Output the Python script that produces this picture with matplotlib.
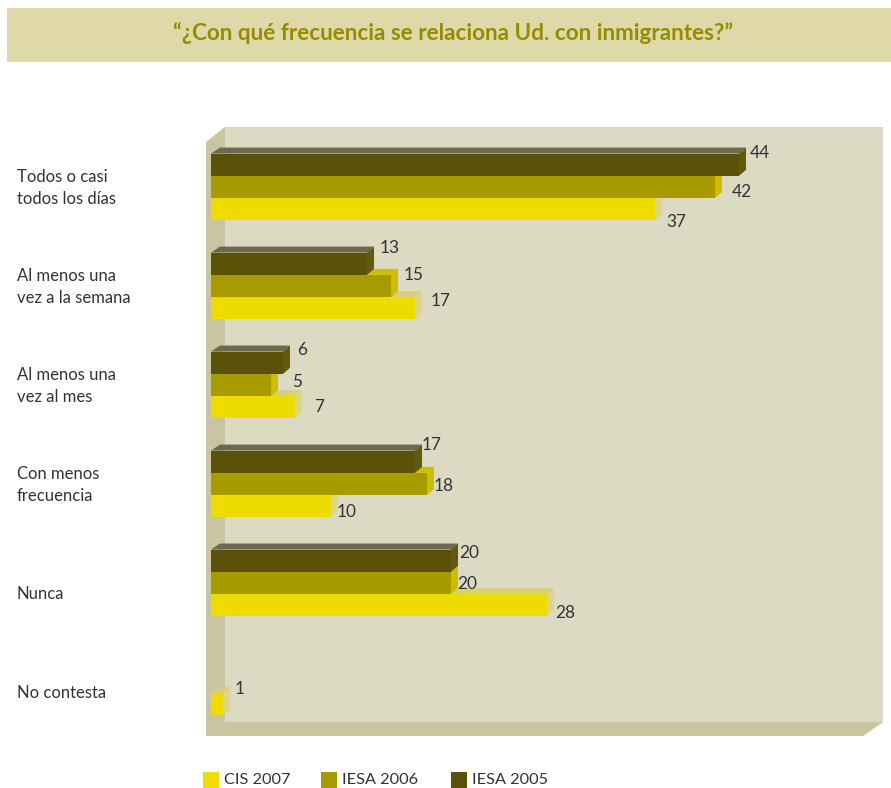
import matplotlib
matplotlib.use("Agg")
import matplotlib.pyplot as plt
from matplotlib.patches import Polygon
from matplotlib.transforms import Affine2D

categories = ["Todos o casi\ntodos los días", "Al menos una\nvez a la semana", "Al menos una\nvez al mes",
              "Con menos\nfrecuencia", "Nunca", "No contesta"]
cis_2007 = [37, 17, 7, 10, 28, 1]
iesa_2006 = [42, 15, 5, 18, 20, None]
iesa_2005 = [44, 13, 6, 17, 20, None]
series_names = ["CIS 2007", "IESA 2006", "IESA 2005"]
title = "“¿Con qué frecuencia se relaciona Ud. con inmigrantes?”"

W, H = 891, 788
FONT = "Lato"
TXT = "#333333"
front = ["#EEDC00", "#A89B00", "#5A5208"]
top = ["#D8CF7C", "#CFBE00", "#6C6A4E"]
side = ["#DDD587", "#CFBE00", "#62590C"]
# px offsets of value labels from bar end / bar centre, per series and category
lab_off = {0: [(21, 13), (26, -7), (24, 0), (16, 6), (18, 8), (17, -15)],
           1: [(27, 5), (23, -11), (26, -3), (17, 2), (16, 1), None],
           2: [(21, -12), (23, -16), (19, -13), (17, -17), (18, -8), None]}

fig = plt.figure(figsize=(W / 100, H / 100), dpi=100, facecolor="white")
ax = fig.add_axes([0, 0, 1, 1])
PX = 12.0   # px per unit value
PY = 99.0   # px per category
X0, Y0 = 211, 187
ax.set_xlim(-X0 / PX, (W - X0) / PX)
ax.set_ylim((H - Y0) / PY, -Y0 / PY)
ax.axis("off")

pix = Affine2D().scale(1, -1).translate(0, H)  # pixel frame, y down -> display at dpi 100
def deco(pts, color, z=1):
    ax.add_patch(Polygon(pts, closed=True, fc=color, ec="none", transform=pix, zorder=z))

# title band
deco([(7, 8), (891, 8), (891, 62), (7, 62)], "#DFD8A9")
ax.text(453, 33, title, transform=pix, ha="center", va="center", color="#968C00",
        fontsize=16.2, fontweight="bold", family=FONT)

# 3D panel
deco([(225, 127), (883, 127), (883, 722), (225, 722)], "#DDDAC4")
deco([(206, 142), (225, 127), (225, 722), (206, 736)], "#C8C5A0")
deco([(206, 736), (225, 722), (883, 722), (863, 736)], "#C8C5A0")

BH = 22.3 / PY
DX, DY = 7 / PX, 6 / PY
offs = [BH, 0, -BH]
for s, vals in enumerate([cis_2007, iesa_2006, iesa_2005]):
    z = 3 + s
    for i, v in enumerate(vals):
        if v is None:
            continue
        y = i + offs[s]
        y0, y1 = y - BH / 2, y + BH / 2
        ax.add_patch(Polygon([(0, y0), (DX + 2 / PX, y0 - DY), (v + DX, y0 - DY), (v, y0)], fc=top[s], ec="none", zorder=z))
        ax.add_patch(Polygon([(v, y0), (v + DX, y0 - DY), (v + DX, y1 - DY), (v, y1)], fc=side[s], ec="none", zorder=z))
        ax.barh(y, v, height=BH, color=front[s], zorder=z + 0.5)
        dx, dy = lab_off[s][i]
        ax.annotate(str(v), (v, y), xytext=(dx * 0.72, -dy * 0.72), textcoords="offset points",
                    ha="center", va="center", fontsize=12.4, color=TXT, family=FONT, zorder=10)

# category labels
for i, c in enumerate(categories):
    shift = 1 if "\n" in c else 11
    ax.text(-X0 / PX + 17 / PX, i + shift / PY, c, ha="left", va="center", fontsize=12, color=TXT,
            family=FONT, linespacing=1.5)

# legend
for x, name, col in zip([203, 321, 451], series_names, front):
    deco([(x, 772), (x + 16, 772), (x + 16, 788), (x, 788)], col)
    ax.text(x + 21, 780.5, name, transform=pix, ha="left", va="center", fontsize=11.7, color=TXT, family=FONT)

fig.savefig("out.png", dpi=100, facecolor="white")
